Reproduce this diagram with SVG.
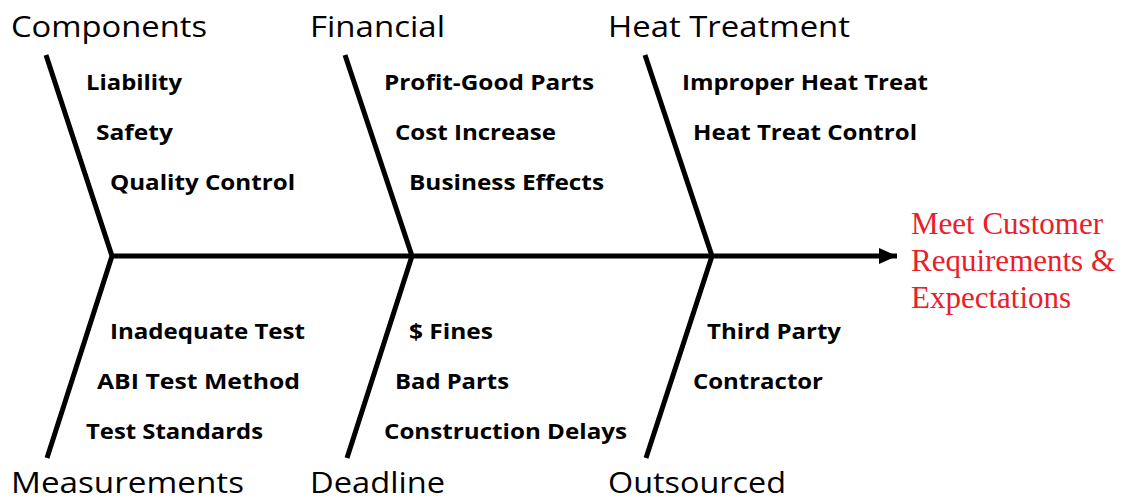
<svg xmlns="http://www.w3.org/2000/svg" width="1130" height="500" viewBox="0 0 1130 500">
  <style>
    .bone { stroke: #000; stroke-width: 5; fill: none; stroke-linecap: butt; stroke-linejoin: miter; }
    .head { font-family: "Open Sans", "Liberation Sans", sans-serif; font-size: 29px; fill: #000; }
    .item { font-family: "Open Sans", "Liberation Sans", sans-serif; font-size: 22px; font-weight: bold; fill: #000; }
    .goal { font-family: "Liberation Serif", "Times New Roman", serif; font-size: 31px; fill: #e8202a; }
  </style>
  <defs>
    <marker id="arrow" markerUnits="userSpaceOnUse" markerWidth="20" markerHeight="16" refX="18" refY="8" orient="auto">
      <path d="M0,0 L18,8 L0,16 Z" fill="#000"/>
    </marker>
  </defs>

  <!-- fish bones -->
  <g id="connectors">
    <line class="bone" x1="112" y1="256" x2="897" y2="256" marker-end="url(#arrow)"/>
    <polyline class="bone" points="46,55 112,256 47,458"/>
    <polyline class="bone" points="345,55 412,256 347,458"/>
    <polyline class="bone" points="645,55 712,256 646,458"/>
  </g>

  <g id="components">
    <text class="head" x="11" y="37" textLength="196" lengthAdjust="spacingAndGlyphs">Components</text>
    <text class="item" x="86" y="90" textLength="96" lengthAdjust="spacingAndGlyphs">Liability</text>
    <text class="item" x="96" y="140" textLength="77" lengthAdjust="spacingAndGlyphs">Safety</text>
    <text class="item" x="110" y="190" textLength="185" lengthAdjust="spacingAndGlyphs">Quality Control</text>
  </g>

  <g id="financial">
    <text class="head" x="310" y="37" textLength="135" lengthAdjust="spacingAndGlyphs">Financial</text>
    <text class="item" x="384" y="90" textLength="210" lengthAdjust="spacingAndGlyphs">Profit-Good Parts</text>
    <text class="item" x="395" y="140" textLength="161" lengthAdjust="spacingAndGlyphs">Cost Increase</text>
    <text class="item" x="409" y="190" textLength="195" lengthAdjust="spacingAndGlyphs">Business Effects</text>
  </g>

  <g id="heat-treatment">
    <text class="head" x="608" y="37" textLength="242" lengthAdjust="spacingAndGlyphs">Heat Treatment</text>
    <text class="item" x="682" y="90" textLength="246" lengthAdjust="spacingAndGlyphs">Improper Heat Treat</text>
    <text class="item" x="693" y="140" textLength="224" lengthAdjust="spacingAndGlyphs">Heat Treat Control</text>
  </g>

  <g id="measurements">
    <text class="item" x="110" y="339" textLength="195" lengthAdjust="spacingAndGlyphs">Inadequate Test</text>
    <text class="item" x="97" y="389" textLength="203" lengthAdjust="spacingAndGlyphs">ABI Test Method</text>
    <text class="item" x="86" y="439" textLength="177" lengthAdjust="spacingAndGlyphs">Test Standards</text>
    <text class="head" x="11" y="493" textLength="233" lengthAdjust="spacingAndGlyphs">Measurements</text>
  </g>

  <g id="deadline">
    <text class="item" x="409" y="339" textLength="84" lengthAdjust="spacingAndGlyphs">$ Fines</text>
    <text class="item" x="395" y="389" textLength="114" lengthAdjust="spacingAndGlyphs">Bad Parts</text>
    <text class="item" x="384" y="439" textLength="243" lengthAdjust="spacingAndGlyphs">Construction Delays</text>
    <text class="head" x="310" y="493" textLength="135" lengthAdjust="spacingAndGlyphs">Deadline</text>
  </g>

  <g id="outsourced">
    <text class="item" x="707" y="339" textLength="134" lengthAdjust="spacingAndGlyphs">Third Party</text>
    <text class="item" x="693" y="389" textLength="130" lengthAdjust="spacingAndGlyphs">Contractor</text>
    <text class="head" x="608" y="493" textLength="178" lengthAdjust="spacingAndGlyphs">Outsourced</text>
  </g>

  <g id="goal">
    <text class="goal" x="911" y="234">Meet Customer</text>
    <text class="goal" x="911" y="271">Requirements &amp;</text>
    <text class="goal" x="911" y="308">Expectations</text>
  </g>
</svg>
